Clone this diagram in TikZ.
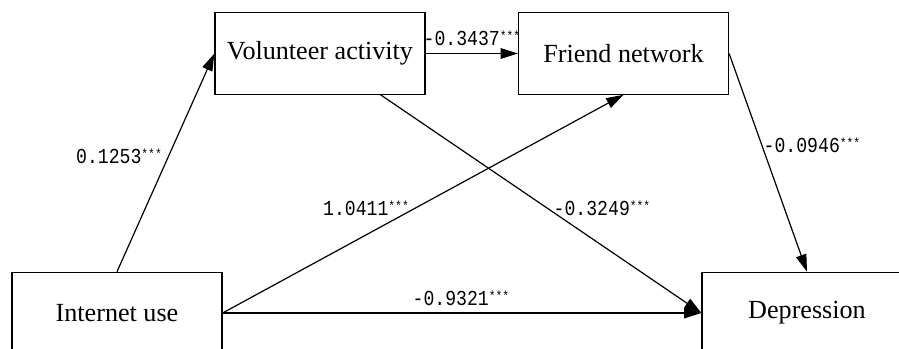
\documentclass[tikz,border=0pt]{standalone}
\usepackage{fontspec}
\setmainfont{Liberation Serif}
\newfontfamily\coeffont[FakeStretch=0.85]{Liberation Mono}
\newcommand\sig{\raisebox{0.45ex}{\fontsize{10}{10}\selectfont ***}}
\usetikzlibrary{arrows.meta}

\begin{document}
\begin{tikzpicture}[x=0.75pt, y=-0.75pt, line width=0.9pt,
  var/.style={draw, minimum width=157.5pt, minimum height=61pt, inner sep=0pt,
    font=\fontsize{19.6}{22}\selectfont},
  link/.style={-{Triangle[length=13pt,width=8pt]}},
  coef/.style={inner sep=1pt, font=\coeffont\fontsize{16}{18}\selectfont}]
  \useasboundingbox (0,0) rectangle (899,349);

  % Variables
  \node[var] (vol) at (320,53.5) {Volunteer activity};
  \node[var] (fri) at (623.5,53.5) {Friend network};
  \node[var] (int) at (117,313) {Internet use};
  \node[var] (dep) at (807,313) {Depression};

  % Paths
  \draw[link] (int.north) -- (vol.west);
  \draw[link] (vol) -- (fri);
  \draw[link] (int.east) -- (fri.south);
  \draw[link] (vol) -- (dep.west);
  \draw[link] (int.east) -- (dep.west);
  \draw[link] (fri.east) -- (dep.north);

  % Coefficients
  \node[coef] (c1) at (119,156) {0.1253\sig};
  \node[coef] (c2) at (472,38) {-0.3437\sig};
  \node[coef] (c3) at (366,208) {1.0411\sig};
  \node[coef] (c4) at (602,208) {-0.3249\sig};
  \node[coef] (c5) at (461,298) {-0.9321\sig};
  \node[coef] (c6) at (812,145) {-0.0946\sig};
\end{tikzpicture}
\end{document}
